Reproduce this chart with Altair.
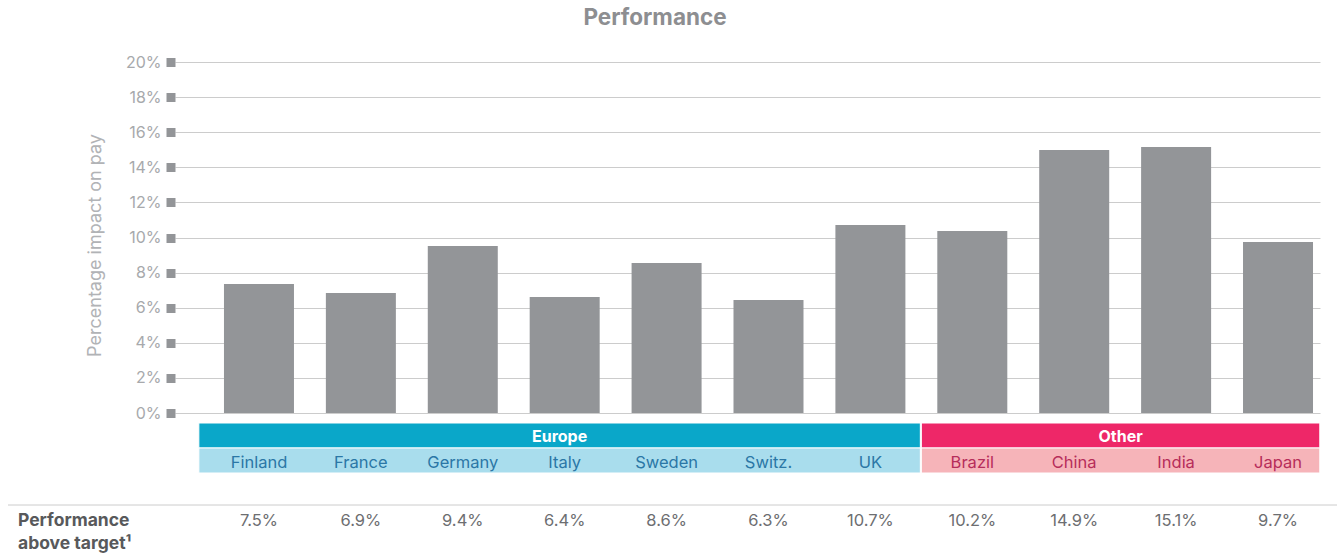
import altair as alt
import pandas as pd

countries = ["Finland", "France", "Germany", "Italy", "Sweden", "Switz.", "UK",
             "Brazil", "China", "India", "Japan"]
groups = ["Europe"] * 7 + ["Other"] * 4
impact = [7.35, 6.84, 9.52, 6.61, 8.55, 6.44, 10.71, 10.37, 14.99, 15.16, 9.74]
above_target = [7.5, 6.9, 9.4, 6.4, 8.6, 6.3, 10.7, 10.2, 14.9, 15.1, 9.7]
y_ticks = list(range(0, 21, 2))

group_names = ["Europe", "Other"]
dark_colors = ["#0aa7c9", "#ee2768"]
light_colors = ["#a9dded", "#f6b4b9"]
text_colors = ["#2b77a6", "#b62d5a"]

FONT = "Inter"

df = pd.DataFrame({
    "idx": list(range(len(countries))),
    "country": countries,
    "group": groups,
    "impact": impact,
    "above": [f"{v:.1f}%" for v in above_target],
})

# group band extents derived from category indices
gdf = df.groupby("group")["idx"].agg(["min", "max"]).reset_index()
gdf["x0"] = gdf.apply(lambda r: r["min"] - (0.59 if r["group"] == "Europe" else 0.5), axis=1)
gdf["x1"] = gdf.apply(lambda r: r["max"] + (0.49 if r["group"] == "Europe" else 0.41), axis=1)
gdf["xc"] = (gdf["x0"] + gdf["x1"]) / 2

xs = alt.Scale(domain=[-0.824, 10.412], nice=False, zero=False, padding=0)
ys = alt.Scale(domain=[0, 20], nice=False)

bars = alt.Chart(df).mark_bar(size=70, color="#939598").encode(
    x=alt.X("idx:Q", scale=xs, axis=None),
    y=alt.Y("impact:Q", scale=ys, axis=alt.Axis(
        values=y_ticks, labelExpr="datum.value + '%'", domain=False,
        tickSize=9, tickWidth=9, tickColor="#939598", labelPadding=5,
        labelFont=FONT, labelFontSize=16, labelColor="#a7a9ac",
        grid=True, gridColor="#cccccc", gridWidth=1,
        title="Percentage impact on pay", titleFont=FONT, titleFontSize=18,
        titleFontWeight="normal", titleColor="#b1b3b6",
        titleX=-80, titleY=183, titleAngle=270, titleAlign="center",
        titleBaseline="middle")),
)

dark_band = alt.Chart(gdf).mark_rect(stroke="white", strokeWidth=1).encode(
    x=alt.X("x0:Q", scale=xs, axis=None), x2="x1:Q",
    y=alt.value(361), y2=alt.value(386),
    color=alt.Color("group:N", scale=alt.Scale(domain=group_names, range=dark_colors), legend=None),
)
light_band = alt.Chart(gdf).mark_rect(stroke="white", strokeWidth=1).encode(
    x=alt.X("x0:Q", scale=xs, axis=None), x2="x1:Q",
    y=alt.value(386), y2=alt.value(411),
    fill=alt.Fill("group:N", scale=alt.Scale(domain=group_names, range=light_colors), legend=None),
)
group_text = alt.Chart(gdf).mark_text(font=FONT, fontSize=16, fontWeight="bold",
                                      color="white", baseline="middle").encode(
    x=alt.X("xc:Q", scale=xs, axis=None), y=alt.value(375), text="group:N",
)
country_text = alt.Chart(df).mark_text(font=FONT, fontSize=16.5, baseline="middle").encode(
    x=alt.X("idx:Q", scale=xs, axis=None), y=alt.value(400.5), text="country:N",
    color=alt.Color("group:N", scale=alt.Scale(domain=group_names, range=text_colors), legend=None),
)
sep = alt.Chart(pd.DataFrame({"k": [0]})).mark_rule(color="#cccccc", strokeWidth=1).encode(
    x=alt.value(-167), x2=alt.value(1162), y=alt.value(443),
)
value_text = alt.Chart(df).mark_text(font=FONT, fontSize=16.5, color="#6d6e71", baseline="middle").encode(
    x=alt.X("idx:Q", scale=xs, axis=None), y=alt.value(459), text="above:N",
)
row_label = alt.Chart(pd.DataFrame({"t": ["Performance", "above target\u00b9"], "line": [0, 1]})).mark_text(
    font=FONT, fontSize=17.5, fontWeight="bold", color="#58595b", align="left", baseline="middle"
).encode(
    x=alt.value(-157), y=alt.Y("line:Q", scale=alt.Scale(domain=[0, 1], range=[459, 482]), axis=None),
    text="t:N",
)
title = alt.Chart(pd.DataFrame({"t": ["Performance"]})).mark_text(
    font=FONT, fontSize=22.5, fontWeight="bold", color="#8d8e91", baseline="middle"
).encode(x=alt.value(480), y=alt.value(-44), text="t:N")

chart = alt.layer(
    bars, dark_band, light_band, group_text, country_text, sep, value_text, row_label, title
).resolve_scale(y="independent", color="independent").properties(
    width=1145, height=351,
    autosize=alt.AutoSizeParams(type="none"),
    padding={"left": 175, "top": 62, "right": 17, "bottom": 141},
).configure_view(stroke=None)

chart.save("out.html", embed_options={"renderer": "svg", "actions": False})
